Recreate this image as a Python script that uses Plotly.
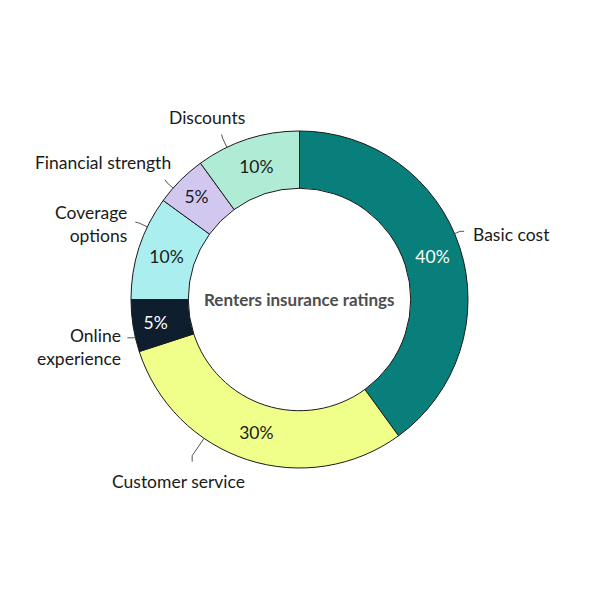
import math
import plotly.graph_objects as go

categories = ["Basic cost", "Customer service", "Online experience",
              "Coverage options", "Financial strength", "Discounts"]
values = [40, 30, 5, 10, 5, 10]
label_text = ["Basic cost", "Customer service", "Online<br>experience",
              "Coverage<br>options", "Financial strength", "Discounts"]
colors = ["#087f7a", "#efff8a", "#0f1e2e", "#aaeef0", "#d2c8ef", "#b0ecd5"]
text_colors = ["#ffffff", "#1a1a1a", "#ffffff", "#1a1a1a", "#1a1a1a", "#1a1a1a"]
center_title = "Renters insurance ratings"

# layout (pixels); page has an 8px body offset
OFF = 8
W = H = 600
PW = PH = 337
ML = MT = 131 - OFF
MR = W - ML - PW
MB = H - MT - PH
CX = 131 + PW / 2
CY = 131 + PH / 2
R = PW / 2
HOLE = 0.66

def px(x):
    return (x - OFF - ML) / PW

def py(y):
    return (H - MB - (y - OFF)) / PH

# label placement in page pixels: (x, y, xanchor, align)
label_pos = [
    (471, 234, "left", "left"),
    (178, 481, "center", "center"),
    (123, 347, "right", "right"),
    (129, 224, "right", "right"),
    (173, 162, "right", "right"),
    (207, 118, "center", "center"),
]
# leader lines: (angle deg clockwise from top, radial length, hook dx, hook dy)
leaders = [
    (67, 6, 4, 0),
    (214.5, 21, 0, 6),
    (257, 2, -6, 0),
    (295.5, 9, -4, -1),
    (311.4, 8, -2, -3),
    (334.5, 10, -1, -4),
]

fig = go.Figure(go.Pie(
    labels=categories,
    values=values,
    sort=False,
    direction="clockwise",
    rotation=0,
    hole=HOLE,
    marker=dict(colors=colors, line=dict(color="#1a1a1a", width=1)),
    textinfo="percent",
    texttemplate="%{percent:.0%}",
    textposition="inside",
    insidetextorientation="horizontal",
    insidetextfont=dict(family="Lato", size=17.5, color=text_colors),
    showlegend=False,
    hoverinfo="label+percent",
))

annotations = [dict(
    x=0.5, y=0.5, xref="paper", yref="paper", text="<b>" + center_title + "</b>",
    showarrow=False, font=dict(family="Lato", size=17, color="#4d4d4d"),
)]
for t, (lx, ly, xa, al) in zip(label_text, label_pos):
    annotations.append(dict(
        x=px(lx), y=py(ly), xref="paper", yref="paper", text=t,
        xanchor=xa, yanchor="middle", align=al, showarrow=False,
        font=dict(family="Lato", size=17.5, color="#1a1a1a"),
    ))

shapes = []
for ang, ln, hx, hy in leaders:
    a = math.radians(ang)
    x0 = CX + R * math.sin(a)
    y0 = CY - R * math.cos(a)
    x1 = CX + (R + ln) * math.sin(a)
    y1 = CY - (R + ln) * math.cos(a)
    x2 = x1 + hx
    y2 = y1 + hy
    path = "M {} {} L {} {} L {} {}".format(px(x0), py(y0), px(x1), py(y1), px(x2), py(y2))
    shapes.append(dict(type="path", xref="paper", yref="paper", path=path,
                       line=dict(color="#555555", width=1)))

fig.update_layout(
    width=W, height=H,
    margin=dict(l=ML, r=MR, t=MT, b=MB, autoexpand=False),
    paper_bgcolor="white", plot_bgcolor="white",
    annotations=annotations, shapes=shapes,
    font=dict(family="Lato"),
)

fig.write_html("out.html")
